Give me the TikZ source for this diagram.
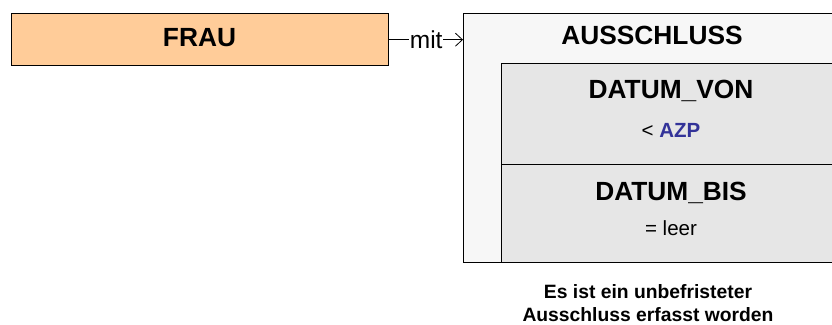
\documentclass[tikz,border=0pt]{standalone}
\usepackage{fontspec}
\setmainfont{Liberation Sans}
\usetikzlibrary{arrows.meta}
\definecolor{frauorange}{HTML}{FFCC99}
\definecolor{outergray}{HTML}{F7F7F7}
\definecolor{innergray}{HTML}{E6E6E6}
\definecolor{azpblue}{HTML}{333399}
\tikzset{
  box/.style={draw=black, line width=1.4pt, inner sep=0pt, anchor=north west},
  bigtxt/.style={font=\fontsize{26.3}{28}\selectfont\bfseries, anchor=base, inner sep=0pt},
  smalltxt/.style={font=\fontsize{20.5}{24}\selectfont, anchor=base, inner sep=0pt},
  captxt/.style={font=\fontsize{19.3}{23}\selectfont\bfseries, align=center, anchor=base, inner sep=0pt},
}
\begin{document}
\begin{tikzpicture}[x=1pt,y=-1pt]
\useasboundingbox (0,0) rectangle (832,324);
\clip (0,0) rectangle (832,324);
\node[box, fill=frauorange, minimum width=377pt, minimum height=52pt] (frau) at (11,13) {};
\node[bigtxt] (frautxt) at (199.5,46.5) {FRAU};
\node[box, fill=outergray, minimum width=380pt, minimum height=249pt] (aus) at (463,13) {};
\node[bigtxt] (austxt) at (652,44) {AUSSCHLUSS};
\node[box, fill=innergray, minimum width=342pt, minimum height=101pt] (von) at (501,63) {};
\node[box, fill=innergray, minimum width=342pt, minimum height=98pt] (bis) at (501,164) {};
\node[bigtxt] (vontxt) at (671,98) {DATUM\_VON};
\node[smalltxt] (voncond) at (671,137) {< \textbf{\color{azpblue}AZP}};
\node[bigtxt] (bistxt) at (671,200) {DATUM\_BIS};
\node[smalltxt] (biscond) at (671,235) {= leer};
\coordinate (arrend) at (aus.west |- frau.east);
\draw[line width=0.8pt, -{Straight Barb[length=7pt,width=13pt,line width=0.8pt]}] (frau.east) -- node[fill=white, inner sep=0.5pt, font=\fontsize{24.5}{26}\selectfont] (mit) {mit} (arrend);
\node[captxt] (cap) at (648,321.5) {Es ist ein unbefristeter\\Ausschluss erfasst worden};
\end{tikzpicture}
\end{document}
